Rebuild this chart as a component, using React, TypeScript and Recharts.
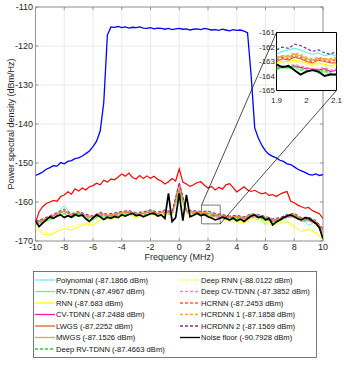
import {
  LineChart,
  Line,
  XAxis,
  YAxis,
  CartesianGrid,
  ReferenceArea,
  ReferenceLine,
} from "recharts";

// frequency grids (MHz)
const FREQ = [
  -10, -9.75, -9.5, -9.25, -9, -8.75, -8.5, -8.25, -8, -7.75, -7.5, -7.25, -7,
  -6.75, -6.5, -6.25, -6, -5.75, -5.5, -5.25, -5, -4.75, -4.5, -4.25, -4, -3.75,
  -3.5, -3.25, -3, -2.75, -2.5, -2.25, -2, -1.75, -1.5, -1.25, -1, -0.75, -0.5,
  -0.25, 0, 0.25, 0.5, 0.75, 1, 1.25, 1.5, 1.75, 2, 2.25, 2.5, 2.75, 3, 3.25,
  3.5, 3.75, 4, 4.25, 4.5, 4.75, 5, 5.25, 5.5, 5.75, 6, 6.25, 6.5, 6.75, 7, 7.25,
  7.5, 7.75, 8, 8.25, 8.5, 8.75, 9, 9.25, 9.5, 9.75, 10,
];
const FREQ_COARSE = [
  -10, -9.5, -9, -8.5, -8, -7.5, -7, -6.5, -6, -5.5, -5, -4.5, -4, -3.5, -3,
  -2.5, -2, -1.5, -1, -0.5, 0, 0.5, 1, 1.5, 2, 2.5, 3, 3.5, 4, 4.5, 5, 5.5, 6,
  6.5, 7, 7.5, 8, 8.5, 9, 9.5, 10,
];
const FREQ_ZOOM = [1.9, 1.92, 1.94, 1.96, 1.98, 2, 2.02, 2.04, 2.06, 2.08, 2.1];

const X_TICKS = [-10, -8, -6, -4, -2, 0, 2, 4, 6, 8, 10];
const Y_TICKS = [-170, -160, -150, -140, -130, -120, -110];
const ZOOM_X_TICKS = [1.9, 2, 2.1];
const ZOOM_Y_TICKS = [-165, -164, -163, -162, -161];

// PA output (blue) and unlinearised spectrum (red)
const paOutput = [
  -153.2, -152.8, -152.3, -151.6, -151.2, -150.7, -150.8, -149.9, -150.2, -149.6,
  -149.4, -148.9, -148.7, -148.2, -147.6, -146.9, -145.8, -144.4, -141.8, -134.5,
  -117.2, -115.1, -115.2, -115.0, -115.3, -115.1, -115.4, -115.2, -115.3, -115.1,
  -115.4, -115.5, -115.3, -115.6, -115.4, -115.5, -115.7, -115.5, -115.8, -115.6,
  -115.5, -115.7, -115.6, -115.9, -115.7, -115.6, -115.8, -115.5, -115.7, -115.9,
  -115.8, -116.0, -115.7, -115.9, -116.1, -115.8, -116.0, -115.9, -116.2, -116.6,
  -127.5, -141.0, -143.6, -145.5, -146.9, -147.8, -148.3, -148.7, -149.3, -149.6,
  -150.2, -150.4, -151.0, -151.6, -152.0, -152.4, -152.9, -153.1, -152.8, -153.2,
  -153.0,
];
const residual = [
  -165.2, -162.5, -161.2, -160.4, -160.0, -159.6, -159.8, -158.6, -158.2, -157.4,
  -158.0, -156.6, -157.2, -156.4, -156.9, -156.1, -155.8, -155.2, -155.6, -154.4,
  -154.9, -154.1, -154.3, -153.6, -152.8, -153.4, -152.6, -153.7, -154.1, -153.2,
  -154.0, -153.3, -153.9, -153.4, -154.2, -154.6, -155.4, -154.8, -154.0, -154.6,
  -151.5, -154.9, -155.4, -156.0, -155.6, -155.0, -154.8, -155.7, -156.4, -156.0,
  -156.9, -156.2, -156.7, -155.6, -155.3, -156.3, -157.4, -156.8, -156.1, -156.9,
  -157.3, -157.0, -157.5, -157.9, -157.6, -158.3, -158.1, -158.6, -158.0, -157.6,
  -157.3, -159.8, -160.2, -160.8, -161.2, -161.6, -161.4, -162.2, -162.6, -163.0,
  -164.2,
];
const noiseFloor = [
  -164.8, -166.3, -165.4, -164.6, -163.8, -164.2, -163.6, -163.3, -164.0, -163.5,
  -163.9, -163.2, -163.6, -163.3, -164.3, -165.0, -164.1, -163.3, -163.8, -164.5,
  -163.9, -164.2, -163.7, -164.0, -163.3, -163.6, -163.2, -162.9, -163.5, -163.3,
  -163.8, -163.4, -163.0, -162.9, -163.6, -163.3, -164.2, -157.8, -165.0, -164.0,
  -157.8, -164.8, -158.2, -163.8, -163.4, -162.9, -163.5, -163.2, -163.8, -164.1,
  -164.6, -164.3, -163.9, -164.2, -164.6, -164.1, -164.8, -164.4, -165.0, -164.3,
  -163.6, -163.3, -164.0, -163.7, -164.6, -164.2, -165.9, -165.1, -164.6, -164.0,
  -163.6, -163.3, -163.8, -164.3, -164.6, -164.0, -164.2, -164.8, -165.5, -166.6,
  -169.5,
];

// linearised outputs, on the coarse grid
const polynomial = [
  -165.0, -164.6, -163.8, -162.9, -161.0, -163.2, -162.6, -163.4, -163.9, -162.8,
  -163.4, -163.0, -162.6, -162.4, -163.0, -162.8, -162.0, -162.9, -162.3, -162.8,
  -158.0, -162.2, -162.5, -162.6, -162.4, -163.1, -163.4, -163.9, -163.7, -164.1,
  -163.3, -163.5, -165.8, -164.5, -164.2, -163.4, -163.2, -164.4, -166.0, -165.0,
  -167.8,
];
const rvTdnn = [
  -165.8, -165.3, -164.6, -163.8, -163.0, -164.1, -163.3, -164.2, -164.6, -163.5,
  -164.0, -163.8, -163.3, -163.0, -163.7, -163.6, -163.0, -163.7, -162.9, -163.5,
  -157.5, -162.9, -163.1, -163.4, -163.5, -163.9, -164.1, -164.5, -164.2, -164.8,
  -163.9, -164.1, -164.5, -165.2, -164.8, -164.0, -163.8, -165.0, -164.7, -165.6,
  -168.2,
];
const rnn = [
  -166.5, -168.2, -168.5, -167.6, -166.8, -167.2, -166.4, -165.6, -166.0, -164.6,
  -164.4, -164.0, -163.6, -163.2, -163.8, -163.5, -163.0, -163.6, -162.9, -163.4,
  -156.5, -162.8, -163.1, -163.3, -163.2, -164.0, -164.2, -164.9, -165.1, -165.4,
  -164.3, -164.5, -165.0, -165.6, -165.3, -165.0, -166.2, -167.6, -167.0, -168.0,
  -169.8,
];
const cvTdnn = [
  -165.4, -164.8, -164.0, -163.2, -162.2, -163.5, -162.8, -163.6, -164.0, -163.0,
  -163.6, -163.3, -162.8, -162.6, -163.2, -163.0, -162.4, -163.1, -162.4, -163.0,
  -155.2, -162.4, -162.7, -163.0, -163.4, -163.5, -163.7, -164.0, -163.8, -164.3,
  -163.5, -163.7, -164.3, -164.9, -164.6, -163.8, -163.4, -164.5, -164.6, -165.3,
  -167.3,
];
const lwgs = [
  -165.2, -164.7, -163.9, -163.1, -162.4, -163.4, -162.8, -163.5, -164.0, -163.0,
  -163.5, -163.2, -162.8, -162.6, -163.1, -162.9, -162.4, -163.0, -162.4, -162.9,
  -156.8, -162.4, -162.6, -162.8, -162.9, -163.3, -163.6, -164.0, -163.8, -164.2,
  -163.4, -163.6, -164.1, -164.7, -164.4, -163.6, -163.3, -164.4, -164.3, -165.1,
  -167.2,
];
const mwgs = [
  -165.1, -164.5, -163.8, -163.0, -162.3, -163.3, -162.7, -163.5, -163.9, -162.9,
  -163.5, -163.1, -162.7, -162.5, -163.1, -162.8, -162.3, -163.0, -162.3, -162.9,
  -156.5, -162.3, -162.6, -162.7, -162.8, -163.2, -163.5, -163.9, -163.7, -164.1,
  -163.3, -163.5, -164.0, -164.6, -164.3, -163.5, -163.2, -164.3, -164.4, -165.0,
  -167.0,
];
const deepRvTdnn = [
  -165.7, -165.1, -164.4, -163.6, -162.9, -163.9, -163.2, -164.0, -164.4, -163.4,
  -163.9, -163.6, -163.2, -163.0, -163.6, -163.4, -162.9, -163.5, -162.8, -163.4,
  -157.0, -162.8, -163.0, -163.3, -163.6, -163.8, -164.0, -164.4, -164.2, -164.6,
  -163.8, -164.0, -164.4, -165.0, -164.7, -163.9, -163.7, -164.8, -164.8, -165.5,
  -168.0,
];
const deepRnn = [
  -166.8, -167.6, -168.0, -167.0, -166.0, -166.5, -165.8, -165.4, -165.2, -164.0,
  -164.6, -164.2, -163.8, -163.4, -164.0, -163.6, -163.2, -163.8, -163.1, -163.6,
  -156.0, -163.0, -163.2, -163.4, -163.3, -164.2, -164.4, -165.0, -164.8, -165.6,
  -164.5, -164.8, -165.3, -166.0, -165.6, -165.4, -166.8, -167.2, -166.8, -167.6,
  -169.8,
];
const deepCvTdnn = [
  -165.3, -164.9, -164.1, -163.3, -162.5, -163.6, -162.9, -163.7, -164.1, -163.1,
  -163.7, -163.4, -162.9, -162.7, -163.3, -163.1, -162.6, -163.2, -162.5, -163.1,
  -155.8, -162.5, -162.8, -163.1, -163.5, -163.6, -163.8, -164.1, -163.9, -164.4,
  -163.6, -163.8, -164.4, -165.0, -164.6, -163.9, -163.5, -164.6, -164.9, -165.4,
  -167.6,
];
const hcrnn = [
  -165.1, -164.6, -163.8, -163.0, -162.2, -163.3, -162.7, -163.4, -163.9, -162.9,
  -163.4, -163.1, -162.7, -162.5, -163.0, -162.8, -162.3, -162.9, -162.3, -162.8,
  -156.2, -162.3, -162.5, -162.7, -162.9, -163.2, -163.5, -163.9, -163.7, -164.1,
  -163.3, -163.5, -164.0, -164.6, -164.3, -163.5, -163.2, -164.3, -164.2, -165.0,
  -167.1,
];
const hcrdnn1 = [
  -165.0, -164.5, -163.7, -162.9, -162.1, -163.2, -162.6, -163.3, -163.8, -162.8,
  -163.3, -163.0, -162.6, -162.4, -162.9, -162.7, -162.2, -162.8, -162.2, -162.7,
  -156.0, -162.2, -162.4, -162.6, -162.7, -163.1, -163.4, -163.8, -163.6, -164.0,
  -163.2, -163.4, -163.9, -164.5, -164.2, -163.4, -163.1, -164.2, -164.1, -164.9,
  -167.0,
];
const hcrdnn2 = [
  -164.9, -164.3, -163.5, -162.7, -161.8, -163.0, -162.4, -163.1, -163.6, -162.6,
  -163.1, -162.8, -162.4, -162.2, -162.7, -162.5, -162.0, -162.6, -162.0, -162.5,
  -155.0, -162.0, -162.2, -162.4, -162.3, -162.9, -163.2, -163.6, -163.4, -163.8,
  -163.0, -163.2, -163.7, -164.3, -164.0, -163.2, -162.9, -164.0, -163.9, -164.7,
  -166.8,
];

// zoomed values, 1.9 to 2.1 MHz
const polynomialZoom = [-162.5, -162.3, -162.2, -162.1, -162.2, -162.4, -162.5, -162.4, -162.6, -162.5, -162.6];
const rvTdnnZoom = [-163.6, -163.4, -163.5, -163.4, -163.6, -163.7, -163.6, -163.8, -163.7, -163.9, -164.0];
const rnnZoom = [-163.1, -163.0, -163.0, -162.9, -163.0, -163.1, -163.2, -163.1, -163.2, -163.3, -163.2];
const cvTdnnZoom = [-163.5, -163.3, -163.4, -163.3, -163.4, -163.5, -163.5, -163.6, -163.5, -163.7, -163.6];
const lwgsZoom = [-163.0, -162.8, -162.9, -162.7, -162.8, -163.0, -163.1, -162.9, -163.0, -163.1, -163.1];
const mwgsZoom = [-162.8, -162.6, -162.7, -162.5, -162.6, -162.8, -162.9, -162.8, -162.8, -162.9, -162.8];
const deepRvTdnnZoom = [-163.5, -163.4, -163.4, -163.3, -163.5, -163.6, -163.6, -163.7, -163.6, -163.8, -163.9];
const deepRnnZoom = [-163.2, -163.1, -163.1, -163.0, -163.1, -163.2, -163.3, -163.2, -163.3, -163.4, -163.3];
const deepCvTdnnZoom = [-163.4, -163.3, -163.3, -163.2, -163.3, -163.4, -163.5, -163.5, -163.4, -163.6, -163.5];
const hcrnnZoom = [-162.9, -162.7, -162.8, -162.6, -162.7, -162.9, -163.0, -162.8, -162.9, -163.0, -162.9];
const hcrdnn1Zoom = [-162.7, -162.6, -162.6, -162.4, -162.5, -162.7, -162.8, -162.7, -162.8, -162.8, -162.7];
const hcrdnn2Zoom = [-162.2, -162.0, -162.1, -161.8, -161.9, -162.1, -162.3, -162.2, -162.4, -162.5, -162.3];
const noiseFloorZoom = [-163.2, -163.4, -163.3, -163.6, -163.9, -163.7, -163.6, -163.7, -164.0, -163.9, -163.9];

type Series = {
  label: string;
  color: string;
  dash?: string;
  width: number;
  freq: number[];
  main: number[];
  zoom: number[];
};

const SERIES: Series[] = [
  { label: "Polynomial (-87.1866 dBm)", color: "#66f0f0", width: 1, freq: FREQ_COARSE, main: polynomial, zoom: polynomialZoom },
  { label: "RV-TDNN (-87.4967 dBm)", color: "#66ff66", width: 1, freq: FREQ_COARSE, main: rvTdnn, zoom: rvTdnnZoom },
  { label: "RNN (-87.683 dBm)", color: "#ffff00", width: 1, freq: FREQ_COARSE, main: rnn, zoom: rnnZoom },
  { label: "CV-TDNN (-87.2488 dBm)", color: "#ff1aa3", width: 1, freq: FREQ_COARSE, main: cvTdnn, zoom: cvTdnnZoom },
  { label: "LWGS (-87.2252 dBm)", color: "#e2622a", width: 1, freq: FREQ_COARSE, main: lwgs, zoom: lwgsZoom },
  { label: "MWGS (-87.1526 dBm)", color: "#eda33a", width: 1, freq: FREQ_COARSE, main: mwgs, zoom: mwgsZoom },
  { label: "Deep RV-TDNN (-87.4663 dBm)", color: "#1fdc1f", dash: "3 2", width: 1, freq: FREQ_COARSE, main: deepRvTdnn, zoom: deepRvTdnnZoom },
  { label: "Deep RNN (-88.0122 dBm)", color: "#ffff55", dash: "3 2", width: 1, freq: FREQ_COARSE, main: deepRnn, zoom: deepRnnZoom },
  { label: "Deep CV-TDNN (-87.3852 dBm)", color: "#ff80cc", dash: "3 2", width: 1, freq: FREQ_COARSE, main: deepCvTdnn, zoom: deepCvTdnnZoom },
  { label: "HCRNN (-87.2453 dBm)", color: "#e86a30", dash: "3 2", width: 1, freq: FREQ_COARSE, main: hcrnn, zoom: hcrnnZoom },
  { label: "HCRDNN 1 (-87.1858 dBm)", color: "#f0aa30", dash: "3 2", width: 1, freq: FREQ_COARSE, main: hcrdnn1, zoom: hcrdnn1Zoom },
  { label: "HCRDNN 2 (-87.1569 dBm)", color: "#7e2f8e", dash: "3 2", width: 1, freq: FREQ_COARSE, main: hcrdnn2, zoom: hcrdnn2Zoom },
  { label: "Noise floor (-90.7928 dBm)", color: "#000000", width: 1.7, freq: FREQ, main: noiseFloor, zoom: noiseFloorZoom },
];

// zoom window and inset corners, in data units of the main axes
const ZOOM_BOX = { x1: 1.55, x2: 2.85, y1: -165.6, y2: -160.8 };
const INSET_TOP_LEFT = { x: 6.77, y: -116.5 };
const INSET_BOTTOM_RIGHT = { x: 10.94, y: -131.4 };

const W = 344;
const H = 367;
const FONT = "'Liberation Sans', Arial, Helvetica, sans-serif";
const INK = "#262626";
const BOX = "#808080";

const MAIN = { top: 7, right: 21, left: 0, bottom: 106, yAxisW: 35.5, xAxisH: 20 };
const PLOT_RIGHT = W - MAIN.right;

const INSET = { left: 240, top: 25, width: 104, height: 85 };
const INSET_MARGIN = { top: 7.5, right: 7.5, left: 0, bottom: 7.5 };
const INSET_YAXIS_W = 36.5;
const INSET_XAXIS_H = 12;

const toPoints = (freq: number[], values: number[]) =>
  freq.map((f, i) => ({ f, v: values[i] }));

function MainXTick(props: any) {
  const { x, y, payload } = props;
  const bottom = y - 3;
  return (
    <g>
      <line x1={x} x2={x} y1={bottom} y2={bottom - 3} stroke={BOX} strokeWidth={0.8} />
      <line x1={x} x2={x} y1={MAIN.top} y2={MAIN.top + 3} stroke={BOX} strokeWidth={0.8} />
      <text x={x} y={y} dy="0.71em" textAnchor="middle" fontFamily={FONT} fontSize={9} fill={INK}>
        {payload.value}
      </text>
    </g>
  );
}

function MainYTick(props: any) {
  const { x, y, payload } = props;
  const left = x + 2.5;
  return (
    <g>
      <line x1={left} x2={left + 3} y1={y} y2={y} stroke={BOX} strokeWidth={0.8} />
      <line x1={PLOT_RIGHT - 3} x2={PLOT_RIGHT} y1={y} y2={y} stroke={BOX} strokeWidth={0.8} />
      <text x={x} y={y} dy="0.35em" textAnchor="end" fontFamily={FONT} fontSize={9} fill={INK}>
        {payload.value}
      </text>
    </g>
  );
}

function InsetXTick(props: any) {
  const { x, y, payload } = props;
  return (
    <text x={x} y={y} dy="0.71em" textAnchor="middle" fontFamily={FONT} fontSize={8} fill={INK}>
      {payload.value}
    </text>
  );
}

function InsetYTick(props: any) {
  const { x, y, payload } = props;
  return (
    <text x={x} y={y} dy="0.35em" textAnchor="end" fontFamily={FONT} fontSize={8} fill={INK}>
      {payload.value}
    </text>
  );
}

function Legend() {
  const rowY = [9, 20.5, 32, 43.5, 55, 66.5, 78];
  return (
    <svg
      width={284}
      height={87}
      style={{ position: "absolute", left: 33, top: 271 }}
    >
      <rect x={0.5} y={0.5} width={283} height={86} fill="#fff" stroke="#555" strokeWidth={0.8} />
      {SERIES.map((s, i) => {
        const col = i < 7 ? 0 : 1;
        const row = col === 0 ? i : i - 7;
        const x0 = col === 0 ? 2 : 147;
        const y = rowY[row];
        return (
          <g key={s.label}>
            <line
              x1={x0}
              x2={x0 + 20}
              y1={y}
              y2={y}
              stroke={s.color}
              strokeWidth={1.3}
              strokeDasharray={s.dash}
            />
            <text
              x={x0 + 21}
              y={y}
              dy="0.35em"
              fontFamily={FONT}
              fontSize={7.6}
              fill="#111"
            >
              {s.label}
            </text>
          </g>
        );
      })}
    </svg>
  );
}

export default function App() {
  const insetPlotLeft = INSET.left + INSET_YAXIS_W;
  const insetPlotTop = INSET.top + INSET_MARGIN.top;
  const insetPlotW = INSET.width - INSET_YAXIS_W - INSET_MARGIN.right;
  const insetPlotH = INSET.height - INSET_MARGIN.top - INSET_MARGIN.bottom - INSET_XAXIS_H;

  return (
    <div style={{ position: "absolute", left: 0, top: 0, width: W, height: H, background: "#fff" }}>
      <div style={{ position: "absolute", left: 0, top: 0 }}>
        <LineChart width={W} height={H} margin={{ top: MAIN.top, right: MAIN.right, left: MAIN.left, bottom: MAIN.bottom }}>
          <CartesianGrid stroke="#e4e4e4" strokeWidth={0.8} />
          <XAxis
            dataKey="f"
            type="number"
            domain={[-10, 10]}
            ticks={X_TICKS}
            interval={0}
            allowDataOverflow
            height={MAIN.xAxisH}
            tickSize={0}
            tickMargin={3}
            tickLine={false}
            axisLine={false}
            tick={MainXTick}
            label={{ value: "Frequency (MHz)", position: "insideBottom", offset: 1, fill: INK, fontSize: 9, fontFamily: FONT }}
          />
          <YAxis
            type="number"
            domain={[-170, -110]}
            ticks={Y_TICKS}
            interval={0}
            allowDataOverflow
            width={MAIN.yAxisW}
            tickSize={0}
            tickMargin={2.5}
            tickLine={false}
            axisLine={false}
            tick={MainYTick}
            label={{
              value: "Power spectral density (dBm/Hz)",
              angle: -90,
              position: "insideLeft",
              offset: 11,
              fill: INK,
              fontSize: 9,
              fontFamily: FONT,
              style: { textAnchor: "middle" },
            }}
          />
          <Line data={toPoints(FREQ, paOutput)} dataKey="v" stroke="#0000ff" strokeWidth={1.3} dot={false} isAnimationActive={false} />
          <Line data={toPoints(FREQ, residual)} dataKey="v" stroke="#ff0000" strokeWidth={1.2} dot={false} isAnimationActive={false} />
          {SERIES.map((s) => (
            <Line
              key={s.label}
              data={toPoints(s.freq, s.main)}
              dataKey="v"
              stroke={s.color}
              strokeWidth={s.width}
              strokeDasharray={s.dash}
              dot={false}
              isAnimationActive={false}
            />
          ))}
          <ReferenceArea x1={-10} x2={10} y1={-170} y2={-110} fill="none" stroke={BOX} strokeWidth={0.8} />
          <ReferenceArea {...ZOOM_BOX} fill="none" stroke="#444" strokeWidth={0.7} />
          <ReferenceLine
            segment={[{ x: ZOOM_BOX.x1, y: ZOOM_BOX.y2 }, INSET_TOP_LEFT]}
            stroke="#000"
            strokeWidth={0.7}
            ifOverflow="visible"
          />
          <ReferenceLine
            segment={[{ x: ZOOM_BOX.x2, y: ZOOM_BOX.y1 }, INSET_BOTTOM_RIGHT]}
            stroke="#000"
            strokeWidth={0.7}
            ifOverflow="visible"
          />
        </LineChart>
      </div>

      <div
        style={{
          position: "absolute",
          left: insetPlotLeft,
          top: insetPlotTop,
          width: insetPlotW,
          height: insetPlotH,
          background: "#fff",
        }}
      />
      <div style={{ position: "absolute", left: INSET.left, top: INSET.top }}>
        <LineChart width={INSET.width} height={INSET.height} margin={INSET_MARGIN}>
          <XAxis
            dataKey="f"
            type="number"
            domain={[1.9, 2.1]}
            ticks={ZOOM_X_TICKS}
            interval={0}
            allowDataOverflow
            height={INSET_XAXIS_H}
            tickSize={0}
            tickMargin={7}
            tickLine={false}
            axisLine={false}
            tick={InsetXTick}
          />
          <YAxis
            type="number"
            domain={[-165, -161]}
            ticks={ZOOM_Y_TICKS}
            interval={0}
            allowDataOverflow
            width={INSET_YAXIS_W}
            tickSize={0}
            tickMargin={1.5}
            tickLine={false}
            axisLine={false}
            tick={InsetYTick}
          />
          {SERIES.map((s) => (
            <Line
              key={s.label}
              data={toPoints(FREQ_ZOOM, s.zoom)}
              dataKey="v"
              stroke={s.color}
              strokeWidth={s.width + 0.2}
              strokeDasharray={s.dash}
              dot={false}
              isAnimationActive={false}
            />
          ))}
          <ReferenceArea x1={1.9} x2={2.1} y1={-165} y2={-161} fill="none" stroke="#000" strokeWidth={1} />
        </LineChart>
      </div>

      <Legend />
    </div>
  );
}
